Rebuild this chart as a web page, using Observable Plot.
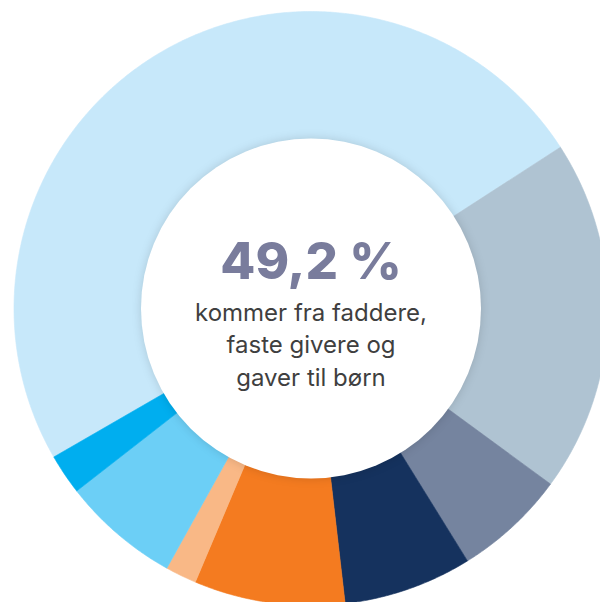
<!DOCTYPE html>
<html>
<head>
<meta charset="utf-8">
<script src="https://cdn.jsdelivr.net/npm/d3@7"></script>
<script src="https://cdn.jsdelivr.net/npm/@observablehq/plot@0.6"></script>
<style>
  html, body { margin: 0; padding: 0; background: #fff; overflow: hidden; }
  #chart { width: 600px; height: 602px; overflow: hidden; }
</style>
</head>
<body>
<div id="chart"></div>
<script>
// Data (percent shares, clockwise from the start angle)
const categories = ["Faddere, faste givere og gaver til børn", "Kategori 2", "Kategori 3", "Kategori 4", "Kategori 5", "Kategori 6", "Kategori 7", "Kategori 8"];
const shares = [49.2, 19.2, 6.1, 7.0, 8.2, 1.7, 6.4, 2.2];
const colors = ["#C7E8FA", "#AFC3D2", "#75849F", "#15325E", "#F47B20", "#F9B886", "#6CCFF6", "#00AEEF"];
const headline = "49,2 %";
const bodyLines = ["kommer fra faddere,", "faste givere og", "gaver til børn"];

// Geometry of the donut (pixel layout)
const W = 600, H = 602;
const cx = 310.5, cy = 308, R = 297, holeR = 170;
const startAngle = -120 * Math.PI / 180;

// Build slice polygons from shares using d3.pie
const pie = d3.pie().sort(null).value(d => d.value).startAngle(startAngle).endAngle(startAngle + 2 * Math.PI);
const arcs = pie(categories.map((c, i) => ({cat: c, value: shares[i]})));
const pts = [];
for (const a of arcs) {
  const n = Math.max(4, Math.ceil((a.endAngle - a.startAngle) * 120));
  pts.push({cat: a.data.cat, x: 0, y: 0});
  for (let k = 0; k <= n; k++) {
    const t = a.startAngle + (a.endAngle - a.startAngle) * k / n;
    pts.push({cat: a.data.cat, x: Math.sin(t), y: Math.cos(t)});
  }
  pts.push({cat: a.data.cat, x: 0, y: 0});
}

const svg = Plot.plot({
  width: W,
  height: H,
  margin: 0,
  x: {domain: [-1, 1], range: [cx - R, cx + R], axis: null},
  y: {domain: [-1, 1], range: [cy + R, cy - R], axis: null},
  color: {domain: categories, range: colors},
  style: {background: "white", overflow: "hidden"},
  marks: [
    Plot.line(pts, {x: "x", y: "y", z: "cat", fill: "cat", stroke: "cat", strokeWidth: 0.6, curve: "linear"}),
    Plot.dot([{x: 0, y: 0}], {x: "x", y: "y", r: holeR, fill: "white", stroke: "none"}),
    Plot.text([headline], {x: () => 0, y: () => 0, text: d => d, dy: -46, fontSize: 51, fontWeight: 800, fill: "#797C9C", fontFamily: "Inter", textAnchor: "middle"}),
    Plot.text([bodyLines.join("\n")], {x: () => 0, y: () => 0, text: d => d, dy: -11, lineAnchor: "top", lineHeight: 1.36, fontSize: 24, fill: "#3F3F3F", fontFamily: "Inter", textAnchor: "middle"})
  ]
});
svg.querySelectorAll("circle").forEach(c => c.style.filter = "drop-shadow(0px 0px 5px rgba(0,0,0,0.14))");
document.getElementById("chart").appendChild(svg);
</script>
</body>
</html>
